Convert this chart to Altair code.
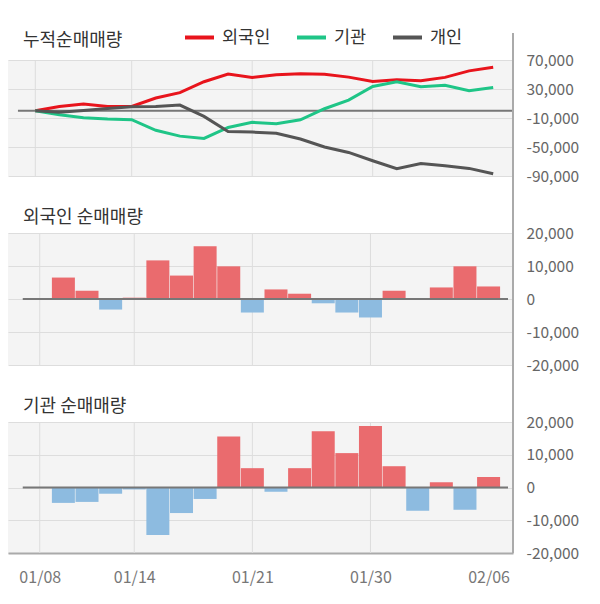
import json
import altair as alt
import pandas as pd

FONT = "Noto Sans CJK KR"

dates = ["01/08", "01/09", "01/10", "01/13", "01/14", "01/15", "01/16", "01/17",
         "01/20", "01/21", "01/22", "01/23", "01/28", "01/29", "01/30", "01/31",
         "02/03", "02/04", "02/05", "02/06"]

panel_titles = ["누적순매매량", "외국인 순매매량", "기관 순매매량"]
series_names = ["외국인", "기관", "개인"]
series_colors = ["#e8141c", "#1fc587", "#555555"]

foreign_cum = [0, 6000, 9200, 6000, 6000, 17500, 25000, 40000, 50500, 46000,
               49700, 51000, 50500, 46400, 40400, 42700, 41400, 46000, 55000, 60000]
inst_cum = [0, -5500, -9600, -11500, -12400, -27000, -35000, -38200, -23000, -16000,
            -18000, -12400, 2800, 14700, 33500, 40000, 33000, 35000, 27600, 32000]
indiv_cum = [0, -2000, 500, 3000, 5600, 5800, 7800, -7800, -28500, -29400,
             -31000, -39000, -50000, -57500, -69000, -80000, -72800, -76000, -79500, -87000]

foreign_net = [0, 6500, 2500, -3200, 400, 11700, 7100, 16000, 9900, -4100,
               2900, 1600, -1300, -4100, -5600, 2500, 0, 3500, 9900, 3800]
inst_net = [0, -4700, -4400, -1900, -600, -14500, -7800, -3500, 15600, 5900,
            -1300, 5900, 17200, 10500, 18800, 6500, -7100, 1600, -6800, 3200]

cum_ticks = [70000, 30000, -10000, -50000, -90000]
net_ticks = [20000, 10000, 0, -10000, -20000]
grid_dates = ["01/08", "01/14", "01/21", "01/30"]
label_dates = ["01/08", "01/14", "01/21", "01/30", "02/06"]

POS = "#ea6b6e"
NEG = "#8dbbe0"
W = 505
X_DOMAIN = [-1.133, 19.822]
ZERO_START = -0.72

idx = list(range(len(dates)))
xscale = alt.Scale(domain=X_DOMAIN, nice=False, zero=False)
label_expr_y = "datum.value < 0 ? '-' + format(-datum.value, ',') : format(datum.value, ',')"
label_expr_x = json.dumps(dates) + "[datum.value]"


def yaxis(ticks):
    return alt.Axis(orient="right", values=ticks, title=None, domain=False, ticks=False,
                    grid=True, gridColor="#dddddd", gridWidth=1, labelPadding=13,
                    labelFontSize=15.5, labelColor="#666666", labelExpr=label_expr_y,
                    labelAlign="left", labelBaseline="middle", labelFont=FONT)


def title_mark(text, dy):
    return alt.Chart(pd.DataFrame({"t": [text]})).mark_text(
        align="left", baseline="middle", fontSize=18, color="#333333", font=FONT
    ).encode(x=alt.value(15), y=alt.value(dy), text="t:N")


grid_df = pd.DataFrame({"i": [dates.index(d) for d in grid_dates]})
zero_df = pd.DataFrame({"x0": [ZERO_START], "x1": [X_DOMAIN[1]], "v": [0]})


def vgrid(xax):
    return alt.Chart(grid_df).mark_rule(color="#dddddd", strokeWidth=1).encode(
        x=alt.X("i:Q", scale=xscale, axis=xax))


def axis_line(ext, h):
    return alt.Chart(zero_df).mark_rule(color="#aaaaaa", strokeWidth=2).encode(
        x=alt.value(W), y=alt.value(-ext), y2=alt.value(h))


# Panel 1: cumulative lines
lines_df = pd.DataFrame({
    "i": idx * 3,
    "series": [series_names[0]] * len(idx) + [series_names[1]] * len(idx) + [series_names[2]] * len(idx),
    "v": foreign_cum + inst_cum + indiv_cum,
})
H1 = 116
y1 = alt.Y("v:Q", scale=alt.Scale(domain=[-90000, 70000], nice=False, zero=False), axis=yaxis(cum_ticks))
lines = alt.Chart(lines_df).mark_line(strokeWidth=3).encode(
    x=alt.X("i:Q", scale=xscale, axis=None),
    y=y1,
    color=alt.Color("series:N", scale=alt.Scale(domain=series_names, range=series_colors),
                    legend=alt.Legend(title=None, orient="none", legendX=175, legendY=-39,
                                      direction="horizontal", symbolType="stroke", symbolSize=841,
                                      symbolStrokeWidth=4, labelFontSize=17.5, labelColor="#333333",
                                      labelFont=FONT, labelOffset=6, columnPadding=18, padding=0)),
    order=alt.Order("i:Q"),
)
zr1 = alt.Chart(zero_df).mark_rule(color="#777777", strokeWidth=2).encode(
    x=alt.X("x0:Q", scale=xscale, axis=None), x2="x1:Q", y=y1)
p1 = alt.layer(vgrid(None), zr1, lines, axis_line(27, H1), title_mark(panel_titles[0], -19)).properties(
    width=W, height=H1)


def bar_panel(values, name, h, show_x):
    df = pd.DataFrame({"i": idx, "v": values})
    y = alt.Y("v:Q", scale=alt.Scale(domain=[-20000, 20000], nice=False, zero=False), axis=yaxis(net_ticks))
    if show_x:
        xax = alt.Axis(values=[dates.index(d) for d in label_dates], labelExpr=label_expr_x, ticks=False,
                       domain=True, domainColor="#aaaaaa", domainWidth=2, grid=False, labelFontSize=16,
                       labelColor="#777777", labelPadding=16, title=None, labelFlush=False, labelFont=FONT)
    else:
        xax = None
    bars = alt.Chart(df).mark_bar(width=23).encode(
        x=alt.X("i:Q", scale=xscale, axis=xax),
        y=y,
        color=alt.condition("datum.v > 0", alt.value(POS), alt.value(NEG)),
    )
    zr = alt.Chart(zero_df).mark_rule(color="#777777", strokeWidth=2).encode(
        x=alt.X("x0:Q", scale=xscale, axis=xax), x2="x1:Q", y=y)
    return alt.layer(vgrid(xax), bars, zr, axis_line(58, h), title_mark(name, -15)).properties(
        width=W, height=h)


p2 = bar_panel(foreign_net, panel_titles[1], 132, False)
p3 = bar_panel(inst_net, panel_titles[2], 131, True)

chart = alt.vconcat(p1, p2, p3, spacing=57, bounds="flush").resolve_scale(
    x="independent", y="independent", color="independent"
).properties(
    padding={"left": 0, "top": 13, "right": 5, "bottom": 5},
    background="white",
).configure(font=FONT).configure_view(fill="#f4f4f4", strokeWidth=0)

chart.save("out.html", embed_options={"renderer": "svg", "actions": False})
